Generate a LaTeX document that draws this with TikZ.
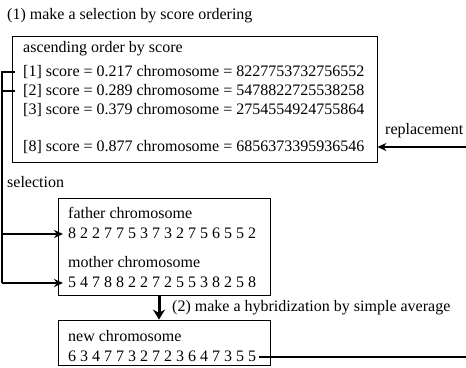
\documentclass[tikz,border=0pt]{standalone}
\usepackage{fontspec}
\setmainfont{Liberation Serif}
\usetikzlibrary{arrows.meta,positioning}

\begin{document}
\begin{tikzpicture}[x=1pt,y=-1pt,font=\rmfamily\fontsize{16}{19}\selectfont]
\tikzstyle{frame}=[draw,line width=0.8pt,inner sep=0pt]
\tikzstyle{txt}=[anchor=west,inner sep=0pt,text height=11.5pt,text depth=3pt]
\tikzstyle{link}=[line width=1.8pt]
\tikzstyle{tip}=[-{Stealth[length=9pt,width=8pt]}]
\useasboundingbox (0,0) rectangle (466,367);

\node[txt] (step1) at (7,15) {(1) make a selection by score ordering};

\node[frame,minimum width=365pt,minimum height=126pt] (sortbox) at (194.5,99) {};
\node[txt] (asc) at (23,48) {ascending order by score};
\node[txt] (ord1) at (23,72) {[1] score = 0.217 chromosome = 8227753732756552};
\node[txt] (ord2) at (23,91) {[2] score = 0.289 chromosome = 5478822725538258};
\node[txt] (ord3) at (23,110) {[3] score = 0.379 chromosome = 2754554924755864};
\node[txt] (ord8) at (23,147) {[8] score = 0.877 chromosome = 6856373395936546};

\node[txt] (repl) at (385,130) {replacement};
\node[txt] (sel) at (7,183) {selection};

\node[frame,minimum width=212pt,minimum height=97pt] (parents) at (164,246.5) {};
\node[txt] (dadname) at (68,214) {father chromosome};
\node[txt] (dad) at (68,234) {8 2 2 7 7 5 3 7 3 2 7 5 6 5 5 2};
\node[txt] (mumname) at (68,263) {mother chromosome};
\node[txt] (mum) at (68,283) {5 4 7 8 8 2 2 7 2 5 5 3 8 2 5 8};

\node[txt] (step2) at (172,307) {(2) make a hybridization by simple average};

\node[frame,minimum width=212pt,minimum height=45pt] (child) at (164,342.5) {};
\node[txt] (newname) at (68,337) {new chromosome};
\node[txt] (new) at (68,357) {6 3 4 7 7 3 2 7 2 3 6 4 7 3 5 5};

\coordinate (rail) at (2,0);
\coordinate (inR) at (466,147);
\coordinate (outR) at (466,357);

\draw[link] ([xshift=-8pt]ord1.west) -- (rail |- ord1.west) -- (rail |- mum.west);
\draw[link] ([xshift=-8pt]ord2.west) -- (rail |- ord2.west);
\draw[link,tip] (rail |- dad.west) -- ([xshift=-5pt]dad.west);
\draw[link,tip] (rail |- mum.west) -- ([xshift=-5pt]mum.west);
\draw[line width=3pt,-{Stealth[length=10pt,width=12pt]}] ([xshift=-5pt]parents.south) -- ([xshift=-5pt]child.north);
\draw[link,tip] (inR) -- (sortbox.east |- inR);
\draw[link] ([xshift=3pt]new.east) -- (outR);
\end{tikzpicture}
\end{document}
